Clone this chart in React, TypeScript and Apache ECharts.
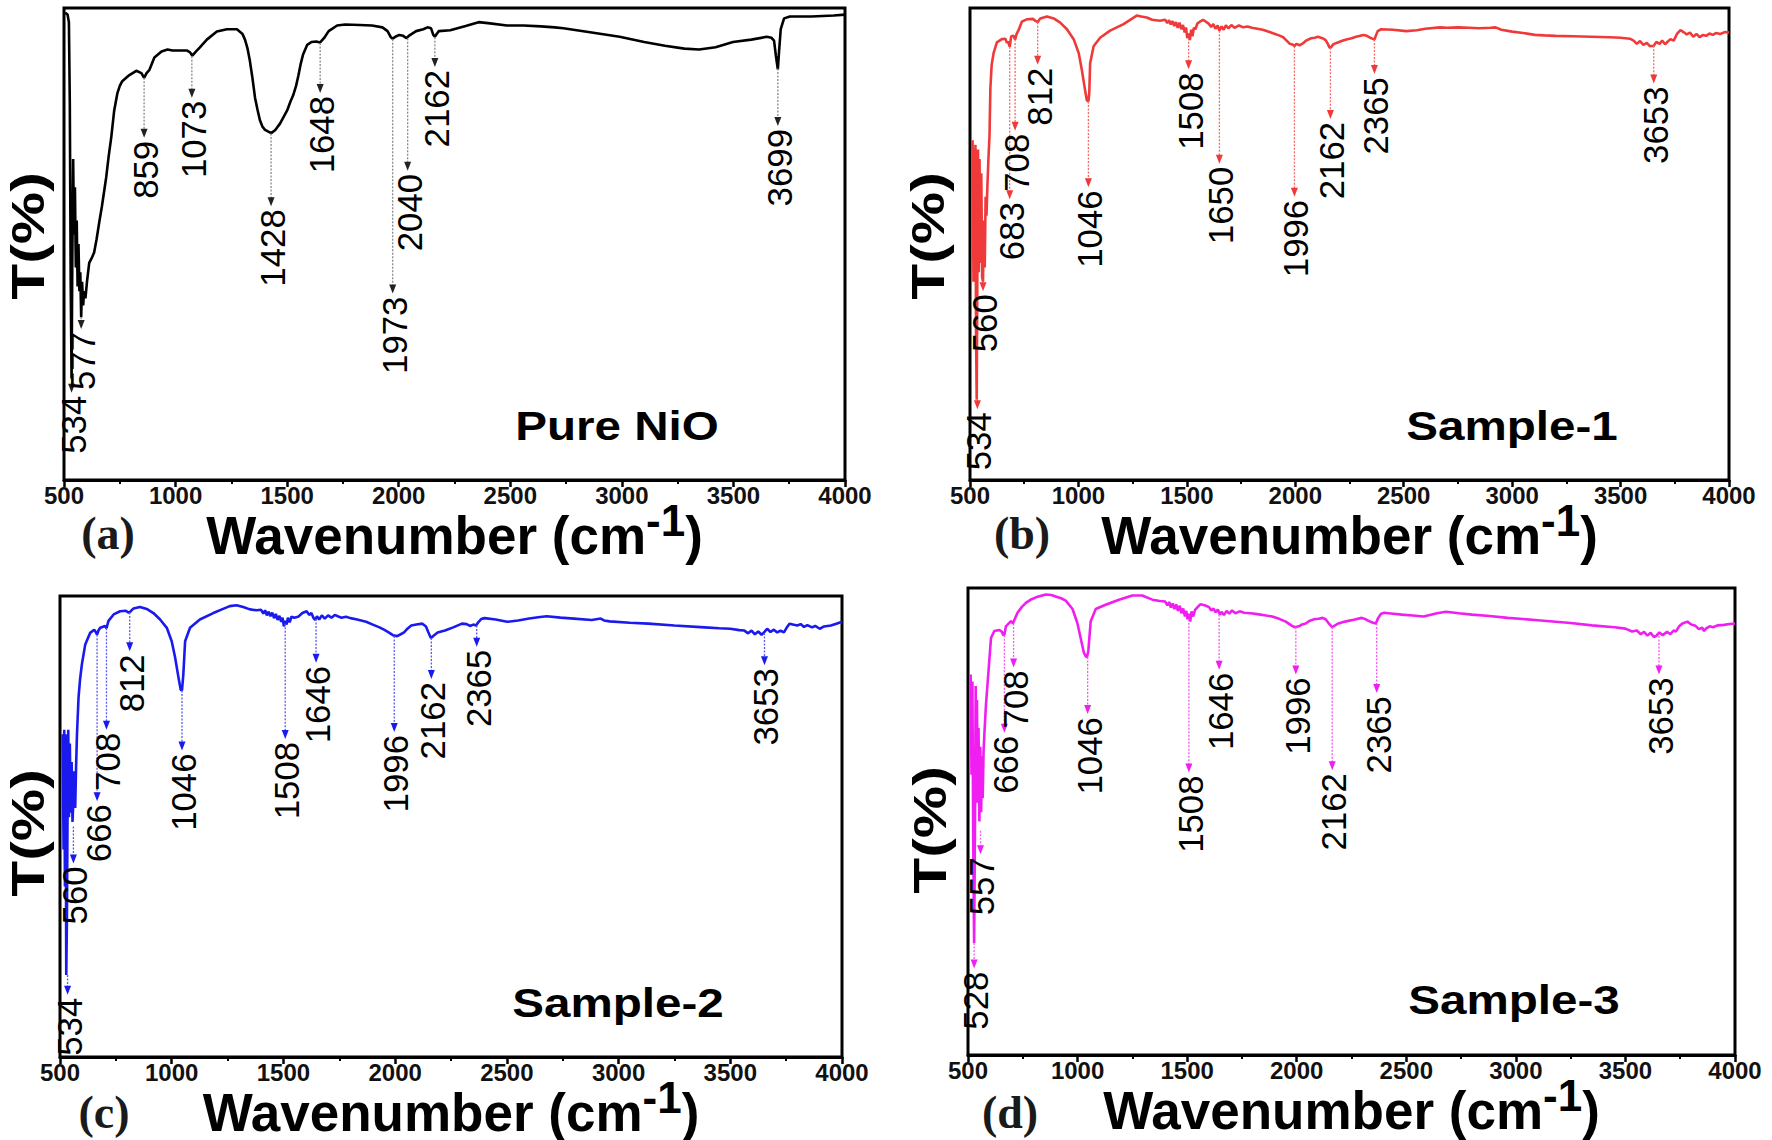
import React, { useEffect, useRef } from "react";
import * as echarts from "echarts";

// ---------- data (wavenumber cm^-1, transmittance as % of panel height) ----------
const pureNiO: [number, number][] = [
  [505, 99], [516, 98.6], [522, 97], [526, 80], [530, 42], [534, 21.5], [537, 45], [541, 68], [545, 52],
  [549, 62], [553, 45], [557, 55], [561, 41], [565, 50], [569, 40], [573, 44], [577, 34.5], [581, 42],
  [586, 37], [590, 40], [596, 38.5], [603, 42], [613, 46], [624, 47], [635, 48.2], [646, 51], [658, 54.6],
  [670, 58], [689, 64.1], [700, 68.5], [712, 72.7], [725, 78.3], [739, 81.9], [750, 83.5], [761, 84.5],
  [793, 85.8], [824, 86.7], [847, 86.2], [859, 85.2], [870, 86.2], [883, 86.9], [905, 89.5], [937, 90.8],
  [964, 91.2], [986, 91], [1018, 91], [1050, 91], [1065, 90.6], [1075, 89.9], [1092, 90.8], [1108, 91.6],
  [1140, 93.3], [1185, 95], [1230, 95.5], [1275, 95.5], [1300, 94.5], [1311, 93.3], [1322, 91.5],
  [1333, 88.8], [1345, 85], [1356, 81], [1367, 78.5], [1378, 76.2], [1390, 74.8], [1401, 74.2],
  [1412, 73.9], [1428, 73.5], [1446, 74.1], [1468, 75.5], [1485, 77], [1500, 78.3], [1515, 80.2],
  [1527, 81.5], [1540, 83.5], [1550, 85.6], [1560, 88], [1571, 90.1], [1590, 92.2], [1609, 92.8],
  [1630, 92.9], [1648, 92.7], [1665, 93.6], [1686, 95.1], [1724, 96.3], [1760, 96.5], [1825, 96.4],
  [1880, 96.3], [1927, 95.9], [1950, 95.1], [1965, 93.8], [1973, 93.5], [1985, 93.9], [2003, 94.3],
  [2020, 94.1], [2035, 93.6], [2045, 94.1], [2078, 95.1], [2110, 95.5], [2129, 95.9], [2145, 95.7],
  [2155, 94.3], [2162, 93.9], [2170, 94.5], [2180, 95.1], [2231, 95.3], [2300, 96.2], [2358, 97],
  [2400, 96.8], [2485, 96.3], [2560, 96.3], [2637, 96.1], [2700, 95.9], [2738, 95.7], [2850, 94.9],
  [2990, 93.9], [3100, 92.8], [3193, 92], [3280, 91.4], [3346, 91.2], [3420, 91.7], [3498, 92.8],
  [3580, 93.3], [3650, 93.9], [3670, 93.7], [3682, 93.1], [3690, 90], [3699, 87], [3704, 90.5],
  [3712, 95.5], [3727, 97.8], [3753, 98.2], [3850, 98.2], [3950, 98.4], [4000, 98.6],
];

const sample1: [number, number][] = [
  [512, 72], [516, 42], [519, 70], [522, 50], [525, 71], [528, 30], [531, 17], [534, 45], [537, 70],
  [540, 44], [544, 68], [548, 46], [552, 65], [556, 43], [560, 42], [564, 55], [568, 45], [572, 60],
  [576, 56], [580, 62], [585, 68], [590, 73], [594, 83], [600, 88], [609, 90.5], [624, 92.7], [647, 93.4],
  [663, 93.5], [670, 92.6], [676, 92.9], [683, 91.8], [690, 94], [701, 94.1], [708, 93.3], [715, 94.5],
  [724, 95.3], [739, 97.1], [762, 97.6], [790, 97.7], [801, 97.3], [812, 97], [824, 97.8], [855, 98.2],
  [886, 97.8], [916, 96.9], [947, 95.5], [978, 93.4], [1001, 90.5], [1016, 86.8], [1031, 82.5],
  [1039, 80.4], [1046, 80.2], [1050, 82], [1054, 88.3], [1070, 91.9], [1100, 93.7], [1146, 95.2],
  [1208, 96.6], [1269, 98.4], [1290, 98.2], [1315, 98], [1340, 97.5], [1376, 97.3], [1400, 97.5],
  [1410, 96.8], [1418, 97.4], [1426, 96.5], [1434, 97.2], [1442, 96.2], [1450, 97], [1458, 95.8],
  [1466, 96.9], [1474, 95.5], [1482, 96.4], [1490, 94.8], [1496, 95.9], [1502, 93.6], [1508, 94.6],
  [1514, 93.2], [1520, 95.4], [1526, 94], [1532, 95.8], [1540, 95.5], [1548, 96.7], [1560, 97.1],
  [1575, 97.5], [1585, 97.2], [1600, 96.7], [1612, 96], [1622, 96.6], [1632, 95.6], [1642, 96.3],
  [1650, 95.2], [1660, 96.1], [1670, 95.4], [1680, 96.3], [1692, 95.7], [1705, 96.4], [1720, 95.8],
  [1740, 96.3], [1760, 95.9], [1780, 96.1], [1800, 95.8], [1825, 95.6], [1850, 95.4], [1875, 95],
  [1900, 94.6], [1925, 94.2], [1944, 93.8], [1960, 93.1], [1975, 92.4], [1990, 92.2], [1996, 91.9],
  [2005, 92.4], [2020, 92.1], [2035, 92.5], [2050, 93.1], [2073, 93.6], [2090, 93.7], [2105, 93.9],
  [2125, 93.6], [2140, 93.2], [2150, 92.4], [2158, 91.6], [2165, 91.7], [2175, 92.3], [2190, 92.6],
  [2202, 92.8], [2220, 93.1], [2240, 93.4], [2260, 93.6], [2280, 93.9], [2300, 94.1], [2315, 94.3],
  [2330, 94.1], [2345, 93.7], [2355, 93.5], [2365, 93.3], [2372, 94.2], [2380, 95.1], [2396, 95.5],
  [2450, 95.4], [2512, 95.1], [2560, 95.3], [2600, 95.6], [2667, 95.9], [2700, 95.8], [2750, 95.9],
  [2800, 95.8], [2850, 95.7], [2900, 95.8], [2924, 95.9], [2950, 95.4], [3000, 95], [3050, 94.7],
  [3105, 94.3], [3150, 94.2], [3200, 94.1], [3280, 94], [3363, 93.9], [3450, 93.8], [3500, 93.7],
  [3543, 93.5], [3560, 93.1], [3575, 92.4], [3590, 93], [3605, 92.2], [3621, 92.6], [3635, 91.9],
  [3653, 92], [3665, 92.8], [3680, 92.4], [3692, 93.1], [3705, 92.3], [3718, 92.9], [3730, 93.4],
  [3745, 93.1], [3760, 94.5], [3776, 95.3], [3790, 94.9], [3805, 94.4], [3820, 94.8], [3835, 93.9],
  [3850, 94.5], [3865, 93.8], [3879, 94.3], [3895, 94.1], [3910, 94.6], [3925, 94.3], [3940, 94.7],
  [3960, 94.5], [3980, 94.9], [4000, 94.8],
];

const sample2: [number, number][] = [
  [512, 70], [516, 45], [519, 71], [522, 37], [525, 70], [528, 17.8], [531, 30], [534, 55], [537, 71],
  [540, 52], [544, 68], [548, 53], [552, 64], [556, 51], [560, 56], [564, 62], [568, 54], [572, 63],
  [576, 70], [583, 78], [590, 82], [598, 85.2], [613, 89.5], [635, 92], [653, 92.7], [660, 92.2],
  [666, 91.6], [672, 92.5], [680, 93.1], [702, 93.5], [708, 93], [717, 94.6], [740, 96], [769, 96.7],
  [795, 96.8], [807, 96.4], [815, 96.6], [829, 97.3], [858, 97.6], [888, 97.2], [918, 96.3],
  [948, 94.9], [978, 93.1], [1000, 90.2], [1015, 86.7], [1030, 82.4], [1040, 79.7], [1046, 79.5],
  [1052, 83], [1060, 90.2], [1082, 93.1], [1126, 94.9], [1186, 96.3], [1230, 97.2], [1260, 97.8],
  [1290, 98], [1320, 97.6], [1350, 97.1], [1380, 96.9], [1400, 97], [1410, 96.2], [1418, 96.9],
  [1426, 95.8], [1434, 96.6], [1442, 95.6], [1450, 96.4], [1458, 95.2], [1466, 96.1], [1474, 94.8],
  [1482, 95.7], [1490, 94.4], [1496, 95.3], [1502, 93.4], [1508, 94.6], [1514, 93.8], [1520, 95.3],
  [1528, 94.3], [1536, 95.5], [1548, 95.3], [1566, 95.5], [1585, 96.3], [1604, 96.7], [1615, 95.9],
  [1625, 96.3], [1635, 95.2], [1642, 94.8], [1650, 95.6], [1660, 94.9], [1672, 95.8], [1685, 95.1],
  [1700, 95.8], [1715, 95.3], [1730, 95.9], [1743, 95.6], [1760, 95.3], [1780, 95.5], [1800, 95.2],
  [1830, 94.9], [1870, 94.4], [1900, 93.8], [1930, 93.2], [1950, 92.7], [1971, 92.1], [1990, 91.5],
  [2009, 91.3], [2025, 91.7], [2040, 92.1], [2055, 92.9], [2072, 93.6], [2095, 93.8], [2122, 94],
  [2138, 93.4], [2148, 92.2], [2160, 90.9], [2172, 91.4], [2190, 92.1], [2223, 92.5], [2260, 93.2],
  [2299, 94], [2320, 93.9], [2335, 93.5], [2350, 93.8], [2362, 93.6], [2372, 94.3], [2385, 95],
  [2400, 95.2], [2450, 94.9], [2501, 94.4], [2550, 94.7], [2600, 95.1], [2640, 95.4], [2678, 95.6],
  [2740, 95.3], [2800, 95.1], [2880, 94.8], [2920, 95.1], [2935, 94.7], [2960, 94.5], [3050, 94.2],
  [3133, 94], [3250, 93.6], [3385, 93.2], [3450, 93], [3500, 92.9], [3540, 92.6], [3563, 92.5],
  [3580, 91.9], [3595, 92.5], [3610, 91.7], [3625, 92.3], [3640, 91.6], [3651, 92.1], [3665, 92.9],
  [3680, 92.2], [3695, 92.7], [3710, 92.1], [3725, 92.5], [3740, 92.1], [3752, 93.1], [3765, 94],
  [3780, 93.8], [3800, 93.6], [3815, 93.9], [3830, 93.3], [3845, 93.7], [3866, 93.2], [3880, 93.5],
  [3900, 92.9], [3920, 93.4], [3950, 93.6], [3975, 94], [4000, 94.4],
];

const sample3: [number, number][] = [
  [512, 81.5], [516, 60], [520, 80], [524, 45], [528, 24], [532, 50], [535, 79], [538, 58], [541, 76],
  [544, 54], [548, 70], [552, 50], [556, 66], [560, 52], [563, 64], [567, 55], [571, 65], [575, 69],
  [582, 75], [590, 80], [605, 89.3], [620, 90.8], [643, 91], [655, 90.6], [661, 89.9], [666, 90],
  [673, 91.8], [696, 92.9], [705, 92.4], [712, 93.2], [726, 94.7], [745, 95.9], [764, 96.8],
  [790, 97.6], [810, 98], [855, 98.6], [880, 98.5], [900, 98.2], [925, 97.8], [946, 97.3], [977, 95.5],
  [999, 92.5], [1014, 89.3], [1029, 86.1], [1037, 85.4], [1043, 85.2], [1049, 86.5], [1060, 92.9],
  [1083, 95.5], [1128, 96.4], [1189, 97.5], [1250, 98.4], [1295, 98.4], [1341, 97.5], [1375, 97.2],
  [1400, 97.1], [1410, 96.3], [1418, 97], [1426, 95.8], [1434, 96.7], [1442, 95.5], [1450, 96.5],
  [1458, 95.1], [1466, 96.2], [1474, 94.6], [1482, 95.6], [1490, 93.9], [1496, 95.1], [1502, 93.3],
  [1508, 94.5], [1514, 92.8], [1520, 95], [1528, 93.9], [1536, 95.3], [1548, 95.9], [1560, 96.5],
  [1580, 96.3], [1600, 95.9], [1610, 95.2], [1620, 95.6], [1630, 94.8], [1640, 95.4], [1650, 94.3],
  [1657, 94.9], [1668, 94.2], [1680, 95.1], [1692, 94.5], [1705, 95.2], [1720, 94.6], [1740, 95],
  [1760, 94.7], [1790, 94.6], [1820, 94.4], [1860, 94.1], [1888, 93.9], [1920, 93.4], [1950, 92.8],
  [1975, 92], [1990, 91.6], [2010, 91.8], [2025, 92.2], [2041, 92.4], [2060, 93], [2080, 93.3],
  [2100, 93.4], [2118, 93.6], [2132, 93.3], [2145, 92.5], [2162, 91.6], [2175, 92], [2190, 92.4],
  [2220, 92.8], [2260, 93.2], [2297, 93.6], [2315, 93.3], [2330, 92.9], [2345, 92.6], [2361, 92.4],
  [2372, 93.6], [2385, 94.5], [2400, 94.7], [2440, 94.5], [2480, 94.3], [2530, 94.1], [2579, 93.9],
  [2640, 94.6], [2681, 94.9], [2740, 94.6], [2800, 94.3], [2880, 94], [2963, 93.6], [3100, 93.1],
  [3250, 92.5], [3347, 92], [3450, 91.6], [3500, 91.3], [3530, 90.7], [3552, 90.9], [3570, 90.1],
  [3585, 90.6], [3600, 89.8], [3615, 90.4], [3630, 89.5], [3642, 89.8], [3655, 90.5], [3670, 89.9],
  [3690, 90.6], [3705, 90.1], [3720, 90.9], [3731, 90.7], [3745, 91.8], [3760, 92.4], [3783, 92.8],
  [3800, 92.2], [3820, 91.9], [3835, 91.2], [3850, 91.5], [3859, 90.8], [3870, 91.4], [3885, 91.8],
  [3900, 91.6], [3920, 92], [3950, 92.1], [3975, 92.3], [4000, 92.4],
];

// peak annotations: [wavenumber, arrow start (on curve), arrow tip]
const pureNiOPeaks: [number, number, number][] = [
  [534, 21.5, 18.5], [577, 34.5, 32], [859, 85.2, 72.5], [1073, 89.8, 81], [1428, 73.4, 58],
  [1648, 92.6, 82], [1973, 93.4, 39.5], [2040, 93.6, 65.5], [2162, 93.8, 87.5], [3699, 87.2, 75],
];
const sample1Peaks: [number, number, number][] = [
  [534, 17, 15], [560, 42, 40], [683, 91.8, 59.5], [708, 93.3, 74], [812, 97, 88], [1046, 80.2, 62],
  [1508, 93.6, 87], [1650, 95.2, 67], [1996, 91.9, 60], [2162, 91.6, 76.5], [2365, 93.3, 86],
  [3653, 92, 84],
];
const sample2Peaks: [number, number, number][] = [
  [534, 17.8, 13.5], [560, 50, 42], [666, 91.6, 55.5], [708, 93, 71], [812, 96.4, 88],
  [1046, 79.5, 66.5], [1508, 94, 69], [1646, 95, 85.5], [1996, 91.3, 70.5], [2162, 90.9, 82],
  [2365, 93.6, 89], [3653, 92, 85],
];
const sample3Peaks: [number, number, number][] = [
  [528, 24, 18.5], [557, 48, 43], [666, 89.9, 69], [708, 92.4, 83], [1046, 85.2, 73],
  [1508, 93.3, 60.5], [1646, 94.3, 82.5], [1996, 91.6, 81.5], [2162, 91.6, 61], [2365, 92.4, 77.5],
  [3653, 89.7, 81.5],
];

const sampleNames = ["Pure NiO", "Sample-1", "Sample-2", "Sample-3"];
const panelLetters = ["(a)", "(b)", "(c)", "(d)"];
const xMin = 500;
const xMax = 4000;
const xInterval = 500;

// ---------- layout ----------
const panels = [
  { left: 64, top: 8, width: 781, height: 472, titleGap: 55, color: "#000000", arrow: "#8a8a8a", head: "#222222",
    yTitle: [28, 236], letter: [108, 533], name: [617, 426], data: pureNiO, peaks: pureNiOPeaks },
  { left: 970, top: 8, width: 759, height: 472, titleGap: 55, color: "#f03a3a", arrow: "#f36a6a", head: "#f03a3a",
    yTitle: [928, 236], letter: [1022, 533], name: [1512, 426], data: sample1, peaks: sample1Peaks },
  { left: 60, top: 596, width: 782, height: 461, titleGap: 55, color: "#1a1aee", arrow: "#5a5af2", head: "#1a1aee",
    yTitle: [28, 833], letter: [104, 1112], name: [618, 1003], data: sample2, peaks: sample2Peaks },
  { left: 968, top: 588, width: 767, height: 467, titleGap: 55, color: "#f01ef0", arrow: "#f25af2", head: "#f01ef0",
    yTitle: [930, 830], letter: [1010, 1112], name: [1514, 1000], data: sample3, peaks: sample3Peaks },
];

export default function App() {
  const ref = useRef<HTMLDivElement>(null);

  useEffect(() => {
    document.body.style.margin = "0";
    const chart = echarts.init(ref.current!, undefined, { renderer: "svg" });

    const grid = panels.map((p) => ({
      left: p.left, top: p.top, width: p.width, height: p.height,
      show: true, borderColor: "#000", borderWidth: 3, containLabel: false,
    }));

    const xAxis = panels.map((_, i) => ({
      type: "value", gridIndex: i, min: xMin, max: xMax, interval: xInterval,
      axisLine: { show: true, onZero: false, lineStyle: { color: "#000", width: 3 } },
      axisTick: { show: true, inside: false, length: 7, lineStyle: { color: "#000", width: 2.5 } },
      minorTick: { show: true, splitNumber: 2, length: 4, lineStyle: { color: "#000", width: 2 } },
      axisLabel: {
        show: true, margin: 3, fontSize: 24, fontWeight: "bold", fontFamily: "Liberation Sans",
        color: "#111", showMinLabel: true, showMaxLabel: true, lineHeight: 24,
        formatter: (v: number) => String(v),
      },
      splitLine: { show: false },
    }));

    const yAxis = panels.map((_, i) => ({
      type: "value", gridIndex: i, min: 0, max: 100,
      axisLine: { show: false }, axisTick: { show: false }, axisLabel: { show: false },
      splitLine: { show: false },
    }));

    const lineSeries = panels.map((p, i) => ({
      type: "line", name: sampleNames[i], xAxisIndex: i, yAxisIndex: i, data: p.data,
      showSymbol: false, symbol: "none", smooth: false,
      lineStyle: { color: p.color, width: 2.6 }, z: 3,
    }));

    const peakSeries = panels.map((p, i) => ({
      type: "custom", xAxisIndex: i, yAxisIndex: i, data: p.peaks, silent: true, z: 4,
      renderItem: (params: any, api: any) => {
        const wn = api.value(0);
        const s = api.coord([wn, api.value(1)]);
        const e = api.coord([wn, api.value(2)]);
        return {
          type: "group",
          children: [
            {
              type: "line",
              shape: { x1: s[0], y1: s[1], x2: e[0], y2: e[1] - 6 },
              style: { stroke: p.arrow, lineWidth: 1.3, lineDash: [2, 1.5] },
            },
            {
              type: "polygon",
              shape: { points: [[e[0] - 3.5, e[1] - 9], [e[0] + 3.5, e[1] - 9], [e[0], e[1]]] },
              style: { fill: p.head },
            },
            {
              type: "text",
              x: e[0] + 2, y: e[1] + 3, rotation: Math.PI / 2, scaleX: 1.16, scaleY: 1.15,
              style: {
                text: String(wn), fontSize: 30, fontFamily: "Liberation Sans", fill: "#000",
                align: "right", verticalAlign: "middle",
              },
            },
          ],
        };
      },
    }));

    const graphic: any[] = [];
    panels.forEach((p, i) => {
      graphic.push({
        type: "text", x: p.left + p.width / 2, y: p.top + p.height + p.titleGap,
        style: {
          text: "{m|Wavenumber (cm}{s|-1}{m|)}", align: "center", verticalAlign: "middle",
          rich: {
            m: { fontSize: 53, fontWeight: "bold", fontFamily: "Liberation Sans", fill: "#000", lineHeight: 40 },
            s: { fontSize: 44, fontWeight: "bold", fontFamily: "Liberation Sans", fill: "#000", lineHeight: 30, padding: [0, 0, 30, 0] },
          },
        },
      });
      graphic.push({
        type: "text", x: p.yTitle[0], y: p.yTitle[1], rotation: Math.PI / 2, scaleX: 1.28,
        style: {
          text: "T(%)", fontSize: 46, fontWeight: "bold", fontFamily: "Liberation Sans", fill: "#000",
          align: "center", verticalAlign: "middle",
        },
      });
      graphic.push({
        type: "text", x: p.letter[0], y: p.letter[1],
        style: {
          text: panelLetters[i], fontSize: 46, fontWeight: "bold", fontFamily: "Liberation Serif", fill: "#1a1a1a",
          align: "center", verticalAlign: "middle",
        },
      });
      graphic.push({
        type: "text", x: p.name[0], y: p.name[1], scaleX: 1.16,
        style: {
          text: sampleNames[i], fontSize: 41, fontWeight: "bold", fontFamily: "Liberation Sans", fill: "#000",
          align: "center", verticalAlign: "middle",
        },
      });
    });

    chart.setOption({
      animation: false,
      backgroundColor: "#ffffff",
      grid, xAxis, yAxis,
      series: [...lineSeries, ...peakSeries],
      graphic,
    });
    return () => chart.dispose();
  }, []);

  return (
    <div
      ref={ref}
      style={{ position: "absolute", left: 0, top: 0, width: 1772, height: 1140, background: "#fff" }}
    />
  );
}
